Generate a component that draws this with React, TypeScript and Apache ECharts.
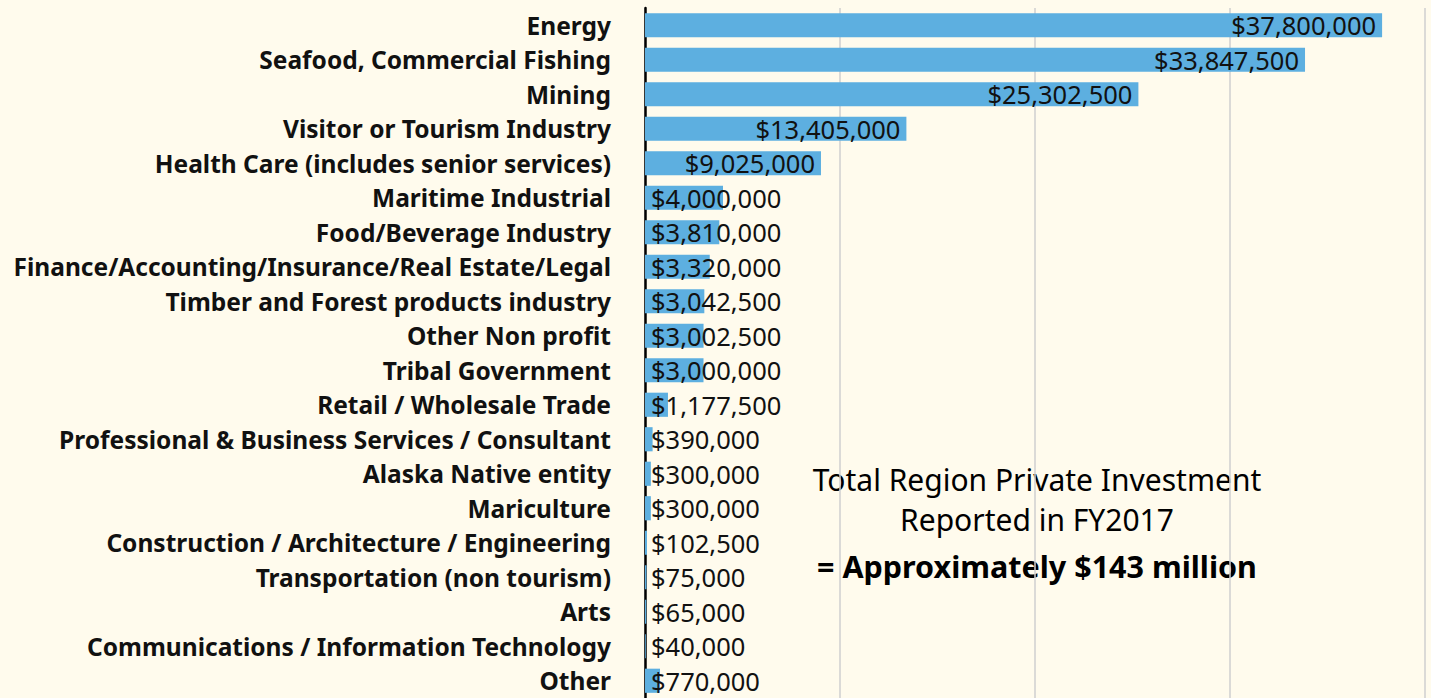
import React, { useEffect, useRef } from "react";
import * as echarts from "echarts";

const categories = [
  "Energy",
  "Seafood, Commercial Fishing",
  "Mining",
  "Visitor or Tourism Industry",
  "Health Care (includes senior services)",
  "Maritime Industrial",
  "Food/Beverage Industry",
  "Finance/Accounting/Insurance/Real Estate/Legal",
  "Timber and Forest products industry",
  "Other Non profit",
  "Tribal Government",
  "Retail / Wholesale Trade",
  "Professional & Business Services / Consultant",
  "Alaska Native entity",
  "Mariculture",
  "Construction / Architecture / Engineering",
  "Transportation (non tourism)",
  "Arts",
  "Communications / Information Technology",
  "Other",
];

const values = [
  37800000, 33847500, 25302500, 13405000, 9025000, 4000000, 3810000, 3320000,
  3042500, 3002500, 3000000, 1177500, 390000, 300000, 300000, 102500, 75000,
  65000, 40000, 770000,
];

const annotationLines = [
  "Total Region Private Investment",
  "Reported in FY2017",
  "= Approximately $143 million",
];

const fmt = (v: number) => "$" + v.toLocaleString("en-US");

export default function App() {
  const ref = useRef<HTMLDivElement>(null);
  useEffect(() => {
    if (!ref.current) return;
    const chart = echarts.init(ref.current, undefined, { renderer: "svg" });
    const font = "'Noto Sans', 'Open Sans', sans-serif";
    chart.setOption({
      animation: false,
      backgroundColor: "#fffbed",
      grid: { left: 645, right: 6, top: 8, bottom: 0, containLabel: false },
      xAxis: {
        type: "value",
        min: 0,
        max: 40000000,
        interval: 10000000,
        axisLabel: { show: false },
        axisLine: { show: false },
        axisTick: { show: false },
        splitLine: { show: true, lineStyle: { color: "#cfcfcf", width: 1.5 } },
      },
      yAxis: {
        type: "category",
        inverse: true,
        data: categories,
        axisLine: { show: true, lineStyle: { color: "#000", width: 2.5 } },
        axisTick: { show: false },
        axisLabel: {
          margin: 34,
          color: "#111",
          fontWeight: "bold",
          fontSize: 24.5,
          fontFamily: font,
        },
      },
      series: [
        {
          type: "bar",
          barCategoryGap: "30%",
          itemStyle: { color: "#5dafe0" },
          data: values.map((v) => ({
            value: v,
            label: {
              show: true,
              position: v > 8000000 ? "insideRight" : "insideLeft",
              distance: 6,
              formatter: (p: any) => fmt(p.value),
              color: "#111",
              fontSize: 25.5,
              fontFamily: font,
            },
          })),
        },
      ],
      graphic: annotationLines.map((t, i) => ({
        type: "text",
        x: 1037,
        y: [479, 519, 566][i],
        style: {
          text: t,
          textAlign: "center",
          textVerticalAlign: "middle",
          fill: "#000",
          fontSize: i === 2 ? 30.5 : 30,
          fontWeight: i === 2 ? "bold" : "normal",
          fontFamily: font,
        },
      })),
    });
    return () => chart.dispose();
  }, []);
  return (
    <div
      ref={ref}
      style={{ position: "absolute", left: 0, top: 0, width: 1431, height: 698 }}
    />
  );
}
